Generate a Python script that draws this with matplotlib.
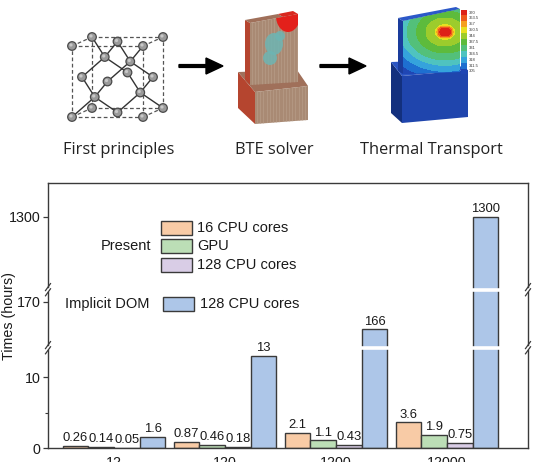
import numpy as np
import matplotlib.pyplot as plt
from matplotlib.patches import Polygon, Rectangle, Ellipse, Circle
from matplotlib.colors import ListedColormap, BoundaryNorm

plt.rcParams['font.family'] = ['Liberation Sans', 'DejaVu Sans']

# ---- chart data ----
sizes = ['12', '120', '1200', '12000']
cpu16 = [0.26, 0.87, 2.1, 3.6]
gpu = [0.14, 0.46, 1.1, 1.9]
cpu128 = [0.05, 0.18, 0.43, 0.75]
dom128 = [1.6, 13, 166, 1300]
present_names = ['16 CPU cores', 'GPU', '128 CPU cores']
dom_name = '128 CPU cores'
yticks = [0, 10, 170, 1300]

# broken y axis: value ranges -> height on the axis (px)
seg_vals = [0, 14.1, 163.4, 171.7, 1000, 1440]
seg_pix = [0, 100, 100.6, 158, 158.6, 265]

# colour scale of the thermal transport inset
cbar_labels = ['370', '363.5', '357', '350.5', '344', '337.5', '331',
               '324.5', '318', '311.5', '305']

bar_colors = ['#f8cba6', '#bcdeb6', '#d9cde6', '#adc6e8']
edge = '#3a3a3a'
txt = '#1a1a1a'

fig = plt.figure(figsize=(5.34, 4.62), dpi=100)
ax = fig.add_axes([48/534, 14/462, 480/534, 265/462])

fwd = lambda v: np.interp(v, seg_vals, seg_pix)
inv = lambda p: np.interp(p, seg_pix, seg_vals)
ax.set_yscale('function', functions=(fwd, inv))
ax.set_ylim(0, 1440)
ax.set_xlim(-0.595, 3.73)

x = np.arange(len(sizes))
w = 0.2315
for k, vals in enumerate([cpu16, gpu, cpu128, dom128]):
    xs = x + (k - 1.5) * w
    ax.bar(xs, vals, w, color=bar_colors[k], edgecolor=edge, linewidth=1, zorder=2)
    for xi, v in zip(xs, vals):
        ax.annotate(f'{v:g}', (xi, v), xytext=(0, 1.2), textcoords='offset points',
                    ha='center', va='bottom', fontsize=9.4, color=txt, zorder=6)

for s in ax.spines.values():
    s.set_color(edge)
    s.set_linewidth(1)

ax.set_yticks(yticks)
ax.set_yticklabels([str(t) for t in yticks])
ax.set_yticks([5], minor=True)
ax.tick_params(axis='y', which='major', direction='out', length=3.5, width=0.9,
               color=edge, labelsize=10.3, pad=2, labelcolor=txt)
ax.tick_params(axis='y', which='minor', direction='out', length=2, width=0.8, color=edge)
ax.set_xticks(x)
ax.set_xticklabels(sizes)
ax.tick_params(axis='x', length=0, pad=5.5, labelsize=10.3, labelcolor=txt)
ax.set_ylabel('Times (hours)', fontsize=10.3, color=txt)
ax.yaxis.set_label_coords(-0.067, 0.5)

# white gaps where the axis is broken
gaps = [inv(100.3), inv(158.3)]
for g in gaps:
    ax.plot([-0.004, 1.004], [g, g], transform=ax.get_yaxis_transform(), color='white',
            lw=2.6, zorder=3, clip_on=False, solid_capstyle='butt')

# overlay in pixel units for the drawings, legend and break marks
ov = fig.add_axes([0, 0, 1, 1], zorder=10)
ov.set_xlim(0, 534)
ov.set_ylim(462, 0)
ov.axis('off')

for g in gaps:
    for xa in (0, 1):
        X = ax.transAxes.transform((xa, 0))[0]
        Y = ax.transData.transform((0, g))[1]
        px, py = ov.transData.inverted().transform((X, Y))
        for d in (-2.6, 2.6):
            ov.plot([px - 2.5, px + 2.5], [py + d + 3.5, py + d - 3.5], color=edge, lw=0.9)

# legend
rows_y = [228, 246, 265]
for name, c, yy in zip(present_names, bar_colors[:3], rows_y):
    ov.add_patch(Rectangle((161, yy - 7), 31, 14, facecolor=c, edgecolor=edge, lw=1))
    ov.text(197, yy, name, fontsize=10.5, va='center', ha='left', color=txt)
ov.text(151, 246, 'Present', ha='right', va='center', fontsize=10.5, color=txt)
ov.add_patch(Rectangle((163, 296.5), 31, 14, facecolor=bar_colors[3], edgecolor=edge, lw=1))
ov.text(200, 303.5, dom_name, fontsize=10.5, va='center', ha='left', color=txt)
ov.text(65, 304, 'Implicit DOM', fontsize=10.5, va='center', ha='left', color=txt)

# ---- top panel: crystal cell ----
def proj(p):
    return 72 + 71 * p[0] + 20 * p[2], 117 - 71 * p[1] - 9 * p[2]

corners = [(i, j, k) for i in (0, 1) for j in (0, 1) for k in (0, 1)]
faces = [(.5, .5, 0), (.5, .5, 1), (.5, 0, .5), (.5, 1, .5), (0, .5, .5), (1, .5, .5)]
inner = [(.25, .25, .25), (.75, .75, .25), (.75, .25, .75), (.25, .75, .75)]
atoms = np.array(corners + faces + inner, dtype=float)

for a in corners:
    for b in corners:
        if a < b and sum(abs(np.subtract(a, b))) == 1:
            (x1, y1), (x2, y2) = proj(a), proj(b)
            ov.plot([x1, x2], [y1, y2], color='#555555', lw=0.9, ls=(0, (3, 2)), zorder=1)
for p in inner:
    for q in atoms:
        if abs(np.linalg.norm(np.subtract(p, q)) - np.sqrt(3) / 4) < 1e-6:
            (x1, y1), (x2, y2) = proj(p), proj(q)
            ov.plot([x1, x2], [y1, y2], color='#333333', lw=1, zorder=1.5)
for a in sorted(atoms.tolist(), key=lambda t: -t[2]):
    cx, cy = proj(a)
    ov.add_patch(Circle((cx, cy), 4.3, facecolor='#9a9a9a', edgecolor='#4a4a4a', lw=0.9, zorder=3))
    ov.add_patch(Circle((cx - 1, cy - 1), 1.6, facecolor='#c8c8c8', edgecolor='none', zorder=3))

# arrows
for x0, x1 in ((179, 223), (320, 366)):
    ov.arrow(x0, 66, x1 - x0, 0, width=2.8, head_width=16, head_length=17,
             length_includes_head=True, fc='black', ec='black')

def face(pts, color, z=1, **kw):
    p = Polygon(pts, closed=True, facecolor=color, edgecolor='none', zorder=z, **kw)
    ov.add_patch(p)
    return p

# BTE solver block
face([(238, 72), (255, 92), (255, 124), (238, 108)], '#b5452f')
face([(238, 72), (297, 70), (308, 86), (255, 92)], '#a0705a')
bf = face([(255, 92), (308, 86), (308, 120), (255, 124)], '#a98a74')
face([(245, 20), (250, 23), (250, 85), (245, 80)], '#b5452f')
face([(245, 20), (278, 14), (283, 17), (250, 23)], '#a0705a')
face([(278, 14), (293, 11), (298, 14), (283, 17)], '#d8281f')
sf = face([(250, 23), (298, 14), (298, 82), (250, 85)], '#a98a74')
for clip, (xa, xb) in ((sf, (250, 298)), (bf, (255, 308))):
    for xx in np.arange(xa + 2, xb, 3.2):
        ln, = ov.plot([xx, xx], [0, 130], color='#b79c88', lw=0.6, alpha=0.8, zorder=1.2)
        ln.set_clip_path(clip)
e = Ellipse((288, 16), 24, 32, facecolor='#e3201b', edgecolor='none', zorder=2)
ov.add_patch(e)
e.set_clip_path(sf)
for (ex, ey, ew, eh) in ((274, 44, 18, 22), (270, 58, 14, 14), (280, 36, 10, 10)):
    e = Ellipse((ex, ey), ew, eh, facecolor='#6db5b3', edgecolor='none', alpha=0.85, zorder=2)
    ov.add_patch(e)
    e.set_clip_path(sf)

# thermal transport block
face([(391, 62), (402, 76), (402, 123), (391, 113)], '#13307e')
face([(391, 62), (447, 60), (468, 70), (402, 76)], '#2a55c4')
face([(402, 76), (468, 70), (468, 117), (402, 123)], '#1f45ad')
face([(398, 18), (403, 21), (403, 74), (398, 71)], '#1a3c9c')
face([(398, 18), (456, 7), (460, 9), (403, 21)], '#2c58c8')
tf = face([(403, 21), (460, 9), (460, 72), (403, 74)], '#1f46b4')

heat = ['#1f46b4', '#1e6fd0', '#35a3dc', '#4fc3c0', '#53c07a', '#5dbb3c',
        '#9ccc2c', '#e8e020', '#f5a020', '#ee5a1c', '#dd2218']
lv = np.arange(11) * 6.5 + 305
edges_lv = np.append(lv - 3.25, lv[-1] + 3.25)
cmap = ListedColormap(heat)
norm = BoundaryNorm(edges_lv, cmap.N)
gx, gy = np.meshgrid(np.linspace(400, 462, 120), np.linspace(5, 76, 140))
r = np.hypot((gx - 445) / 1.35, gy - 32)
frac = np.interp(r, [0, 4, 7, 28, 36, 46, 80], [1, 0.95, 0.65, 0.35, 0.2, 0.05, 0])
cs = ov.contourf(gx, gy, 305 + 65 * frac, levels=edges_lv, cmap=cmap, norm=norm, zorder=2)
cs.set_clip_path(tf)

# colour bar of the inset
for i, lab in enumerate(cbar_labels):
    y0 = 9.5 + i * 5.9
    ov.add_patch(Rectangle((461, y0), 6, 5.9, facecolor=heat[10 - i], edgecolor='none'))
    ov.text(468.5, y0 + 3, lab, fontsize=3, va='center', ha='left', color='#333333')

# captions
cap_font = ['Open Sans', 'DejaVu Sans']
for cx, lab in ((118.5, 'First principles'), (274, 'BTE solver'), (431, 'Thermal Transport')):
    ov.text(cx, 154, lab, ha='center', va='baseline', fontsize=11.8, family=cap_font, color='#222222')

fig.savefig('out.png', dpi=100)
